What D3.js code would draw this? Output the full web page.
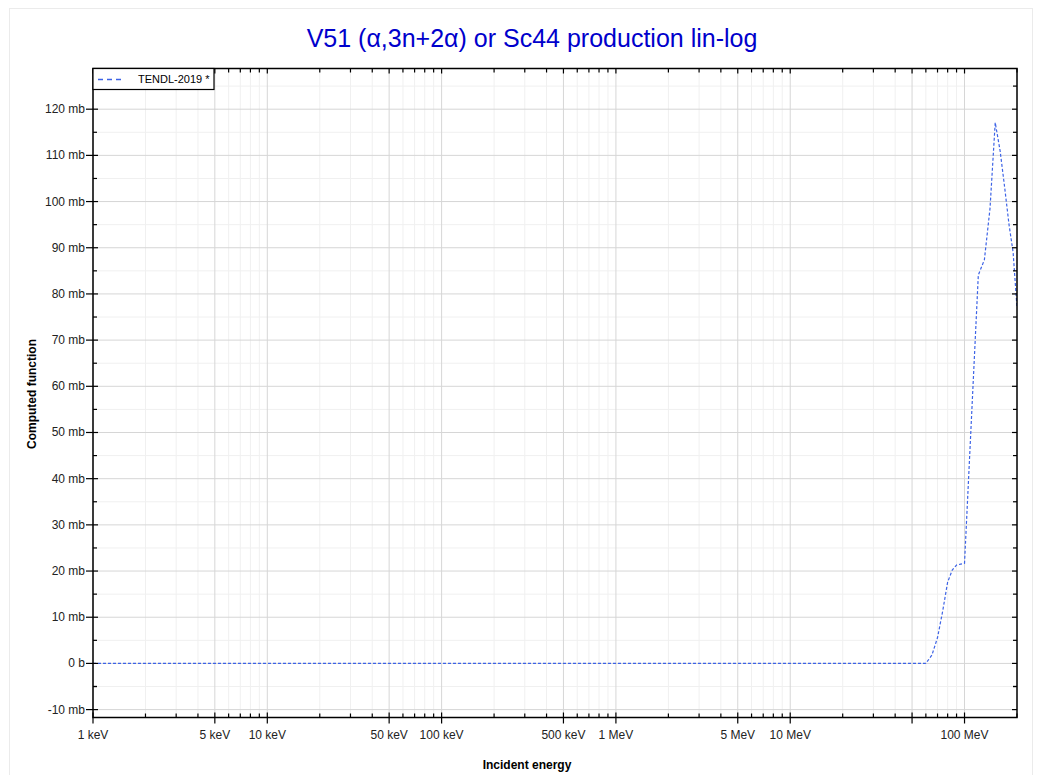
<!DOCTYPE html>
<html>
<head>
<meta charset="utf-8">
<script src="https://cdn.jsdelivr.net/npm/d3@7"></script>
<style>
  html, body { margin: 0; padding: 0; background: #fff; }
  svg { display: block; font-family: "Liberation Sans", Arial, sans-serif; }
</style>
</head>
<body>
<svg id="chart" width="1043" height="775"></svg>
<script>
// ---- data (energies in MeV, cross sections in mb) ----
const seriesName = "TENDL-2019 *";
const energies = [0.001, 0.01, 0.1, 1, 10, 30, 60, 65, 70, 75, 80, 85, 90, 95, 100, 120, 130, 140, 150, 160, 170, 180, 190, 200];
const xsValues = [0, 0, 0, 0, 0, 0, 0, 1.8, 5.6, 11.4, 17.6, 20.2, 21.3, 21.5, 21.7, 84.1, 87.4, 98.5, 117.1, 111.0, 103.0, 95.0, 89.0, 77.0];
const xLabelValues = [0.001, 0.005, 0.01, 0.05, 0.1, 0.5, 1, 5, 10, 100];
const yTickValues = [-10, 0, 10, 20, 30, 40, 50, 60, 70, 80, 90, 100, 110, 120];
const titleText = "V51 (\u03b1,3n+2\u03b1) or Sc44 production lin-log";
const xTitle = "Incident energy";
const yTitle = "Computed function";

// ---- layout ----
const W = 1043, H = 775;
const plot = { left: 93, right: 1017, top: 68.5, bottom: 717.5 };
const svg = d3.select("#chart");

const maxV = d3.max(xsValues);
const x = d3.scaleLog().domain([0.001, 200]).range([plot.left, plot.right]);
const y = d3.scaleLinear().domain([-0.1 * maxV, 1.1 * maxV]).range([plot.bottom, plot.top]);

// outer frame
svg.append("rect").attr("x", 9.5).attr("y", 8.5).attr("width", 1023).attr("height", 780)
  .attr("fill", "#fff").attr("stroke", "#ebebeb").attr("stroke-width", 1);

// title
svg.append("text").attr("x", 532).attr("y", 47).attr("text-anchor", "middle")
  .attr("font-size", 25).attr("fill", "#0000cc").text(titleText);

// tick positions for log axis
const majorX = [], minorX = [];
for (let d = -3; d <= 2; d++) {
  for (let m = 1; m <= 9; m++) {
    const v = m * Math.pow(10, d);
    if (v < 0.001 - 1e-12 || v > 200 + 1e-9) continue;
    if (m === 1 || m === 5) majorX.push(v); else minorX.push(v);
  }
}
const minorY = yTickValues.map(v => v + 5).filter(v => y(v) >= plot.top);
minorY.push(-5);

const grid = svg.append("g");
// minor grid
grid.selectAll("line.mx").data(minorX).enter().append("line")
  .attr("x1", d => x(d)).attr("x2", d => x(d)).attr("y1", plot.top).attr("y2", plot.bottom)
  .attr("stroke", "#f0f0f0").attr("stroke-width", 1);
grid.selectAll("line.my").data(minorY).enter().append("line")
  .attr("x1", plot.left).attr("x2", plot.right).attr("y1", d => y(d)).attr("y2", d => y(d))
  .attr("stroke", "#f0f0f0").attr("stroke-width", 1);
// major grid
grid.selectAll("line.Mx").data(majorX).enter().append("line")
  .attr("x1", d => x(d)).attr("x2", d => x(d)).attr("y1", plot.top).attr("y2", plot.bottom)
  .attr("stroke", "#d6d6d6").attr("stroke-width", 1);
grid.selectAll("line.My").data(yTickValues).enter().append("line")
  .attr("x1", plot.left).attr("x2", plot.right).attr("y1", d => y(d)).attr("y2", d => y(d))
  .attr("stroke", "#d6d6d6").attr("stroke-width", 1);

// clip
svg.append("clipPath").attr("id", "clip").append("rect")
  .attr("x", plot.left).attr("y", plot.top).attr("width", plot.right - plot.left).attr("height", plot.bottom - plot.top);

// data line
const line = d3.line().x((d, i) => x(energies[i])).y(d => y(d));
svg.append("path").datum(xsValues).attr("clip-path", "url(#clip)")
  .attr("d", line).attr("fill", "none").attr("stroke", "#3d63e6")
  .attr("stroke-width", 1.2).attr("stroke-dasharray", "3,2");

// axes frame
const axes = svg.append("g").attr("stroke", "#000");
// ticks: bottom
axes.selectAll("line.bM").data(majorX).enter().append("line")
  .attr("x1", d => x(d)).attr("x2", d => x(d)).attr("y1", plot.bottom - 5).attr("y2", plot.bottom + 6).attr("stroke-width", 1.2);
axes.selectAll("line.bm").data(minorX).enter().append("line")
  .attr("x1", d => x(d)).attr("x2", d => x(d)).attr("y1", plot.bottom - 4).attr("y2", plot.bottom).attr("stroke-width", 1.2);
// top
axes.selectAll("line.tM").data(majorX).enter().append("line")
  .attr("x1", d => x(d)).attr("x2", d => x(d)).attr("y1", plot.top).attr("y2", plot.top + 5).attr("stroke-width", 1.2);
axes.selectAll("line.tm").data(minorX).enter().append("line")
  .attr("x1", d => x(d)).attr("x2", d => x(d)).attr("y1", plot.top).attr("y2", plot.top + 4).attr("stroke-width", 1.2);
// left
axes.selectAll("line.lM").data(yTickValues).enter().append("line")
  .attr("x1", plot.left - 7).attr("x2", plot.left + 5).attr("y1", d => y(d)).attr("y2", d => y(d)).attr("stroke-width", 1.2);
axes.selectAll("line.lm").data(minorY).enter().append("line")
  .attr("x1", plot.left).attr("x2", plot.left + 4).attr("y1", d => y(d)).attr("y2", d => y(d)).attr("stroke-width", 1.2);
// right
axes.selectAll("line.rM").data(yTickValues).enter().append("line")
  .attr("x1", plot.right - 5).attr("x2", plot.right).attr("y1", d => y(d)).attr("y2", d => y(d)).attr("stroke-width", 1.2);
axes.selectAll("line.rm").data(minorY).enter().append("line")
  .attr("x1", plot.right - 4).attr("x2", plot.right).attr("y1", d => y(d)).attr("y2", d => y(d)).attr("stroke-width", 1.2);
// frame
axes.append("rect").attr("x", plot.left).attr("y", plot.top)
  .attr("width", plot.right - plot.left).attr("height", plot.bottom - plot.top)
  .attr("fill", "none").attr("stroke-width", 1.5);

// tick labels
function fmtE(v) {
  if (v < 1) return d3.format("~g")(+(v * 1000).toPrecision(6)) + " keV";
  return d3.format("~g")(v) + " MeV";
}
function fmtY(v) {
  if (v === 0) return "0 b";
  return v + " mb";
}
svg.append("g").selectAll("text").data(xLabelValues).enter().append("text")
  .attr("x", d => x(d)).attr("y", 739).attr("text-anchor", "middle")
  .attr("font-size", 12).attr("fill", "#222").text(fmtE);
svg.append("g").selectAll("text").data(yTickValues).enter().append("text")
  .attr("x", 85).attr("y", d => y(d) + 4).attr("text-anchor", "end")
  .attr("font-size", 12).attr("fill", "#222").text(fmtY);

// axis titles
svg.append("text").attr("x", 527).attr("y", 769).attr("text-anchor", "middle")
  .attr("font-size", 12).attr("font-weight", "bold").attr("fill", "#000").text(xTitle);
svg.append("text").attr("transform", "translate(36,394) rotate(-90)").attr("text-anchor", "middle")
  .attr("font-size", 12).attr("font-weight", "bold").attr("fill", "#000").text(yTitle);

// legend
const lg = svg.append("g");
lg.append("rect").attr("x", plot.left).attr("y", plot.top).attr("width", 121).attr("height", 21)
  .attr("fill", "#fff").attr("stroke", "#000").attr("stroke-width", 1.2);
lg.append("line").attr("x1", 98).attr("x2", 125).attr("y1", 79.5).attr("y2", 79.5)
  .attr("stroke", "#3d63e6").attr("stroke-width", 1.5).attr("stroke-dasharray", "5,4");
lg.append("text").attr("x", 138).attr("y", 83).attr("font-size", 11).attr("fill", "#000").text(seriesName);
</script>
</body>
</html>
